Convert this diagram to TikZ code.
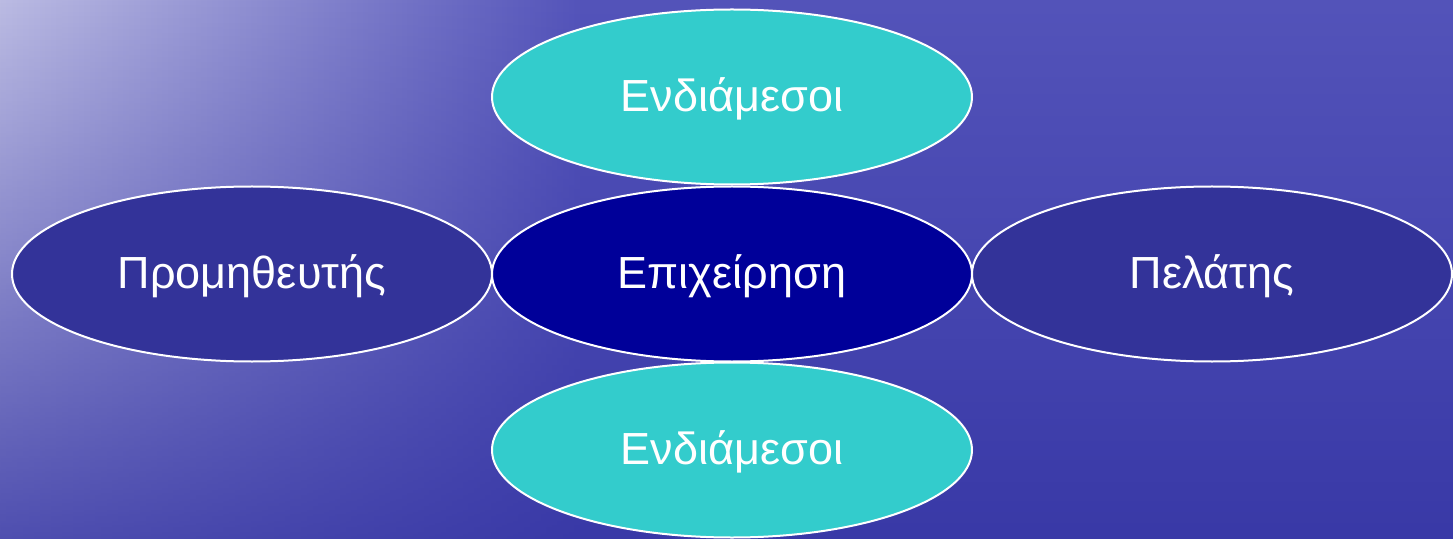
\documentclass[tikz,border=0pt]{standalone}
\usepackage{fontspec}
\setmainfont{Liberation Sans}
\usetikzlibrary{shapes,fadings}
\definecolor{bgmid}{RGB}{84,84,186}
\definecolor{bglight}{RGB}{190,190,228}
\definecolor{bgdark}{RGB}{50,50,162}
\definecolor{teal}{RGB}{51,204,204}
\definecolor{side}{RGB}{51,51,153}
\definecolor{core}{RGB}{0,0,153}
\tikzstyle{oval} = [ellipse, draw=white, line width=2pt, text=white,
    minimum width=480pt, minimum height=175pt, inner sep=0pt,
    font=\fontsize{45}{50}\selectfont, text depth=5pt]
\tikzstyle{mid} = [oval, fill=teal]
\tikzstyle{partner} = [oval, fill=side]

\begin{document}
\begin{tikzpicture}[node distance = auto]
    \useasboundingbox (-732pt,-264pt) rectangle (721pt,274pt);
    % Background
    \fill[bgmid] (-740pt,-270pt) rectangle (730pt,280pt);
    \shade[left color=bglight, right color=bgmid] (-740pt,-270pt) rectangle (-150pt,280pt);
    \fill[bgdark, path fading=north, fill opacity=0.8] (-740pt,-270pt) rectangle (730pt,280pt);
    % Place nodes
    \node [oval, fill=core] (1) {Επιχείρηση};
    \node [mid, above of=1, node distance=177pt] (2) {Ενδιάμεσοι};
    \node [partner, left of=1, node distance=480pt] (3) {Προμηθευτής};
    \node [partner, right of=1, node distance=480pt] (4) {Πελάτης};
    \node [mid, below of=1, node distance=176pt] (5) {Ενδιάμεσοι};
\end{tikzpicture}
\end{document}
